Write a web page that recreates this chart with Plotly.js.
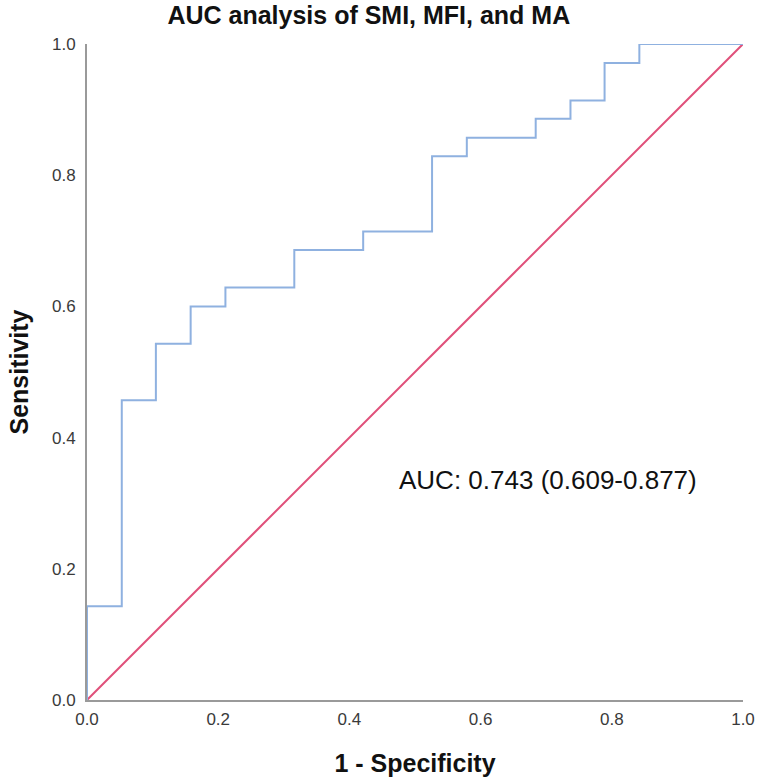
<!DOCTYPE html>
<html>
<head>
<meta charset="utf-8">
<script src="https://cdn.plot.ly/plotly-3.0.1.min.js"></script>
<style>body{margin:0;background:#fff;} #chart{width:762px;height:784px;}</style>
</head>
<body>
<div id="chart"></div>
<script>
// ROC curve corner points (1 - specificity, sensitivity)
const fpr = [0, 0.053, 0.105, 0.158, 0.211, 0.316, 0.421, 0.526, 0.579, 0.684, 0.737, 0.789, 0.842, 1.0];
const tpr = [0, 0.143, 0.457, 0.543, 0.600, 0.629, 0.686, 0.714, 0.829, 0.857, 0.886, 0.914, 0.971, 1.0];
// Reference line
const refX = [0, 1];
const refY = [0, 1];
const tickVals = [0, 0.2, 0.4, 0.6, 0.8, 1.0];
const tickText = ["0.0", "0.2", "0.4", "0.6", "0.8", "1.0"];
const titleText = "AUC analysis of SMI, MFI, and MA";
const xTitle = "1 - Specificity";
const yTitle = "Sensitivity";
const aucText = "AUC: 0.743 (0.609-0.877)";

const traces = [
  {x: refX, y: refY, mode: "lines", line: {color: "#e0507a", width: 2}, hoverinfo: "skip"},
  {x: fpr, y: tpr, mode: "lines", line: {color: "#8fb1e0", width: 2, shape: "vh"}, hoverinfo: "skip"}
];

const FONT = "Liberation Sans, Arial, sans-serif";
const axisCommon = {
  range: [0, 1], tickvals: tickVals, ticktext: tickText,
  showgrid: false, zeroline: false, showline: true, linecolor: "#9a9a9a", linewidth: 2,
  ticks: "", tickfont: {family: FONT, size: 17, color: "#3a3a3a"},
  fixedrange: true
};

const layout = {
  width: 762, height: 784,
  margin: {l: 87, r: 19, t: 44, b: 84},
  paper_bgcolor: "#fff", plot_bgcolor: "#fff",
  showlegend: false,
  font: {family: FONT, color: "#111"},
  title: {text: "<b>" + titleText + "</b>", x: 0.484, xanchor: "center", y: 0.98, yanchor: "middle",
          font: {size: 25, color: "#111"}},
  xaxis: Object.assign({}, axisCommon, {
    title: {text: "<b>" + xTitle + "</b>", font: {size: 25, color: "#111"}, standoff: 26},
    ticklabelstandoff: 3
  }),
  yaxis: Object.assign({}, axisCommon, {
    title: {text: "<b>" + yTitle + "</b>", font: {size: 25, color: "#111"}, standoff: 16},
    ticklabelstandoff: 6
  }),
  annotations: [{
    x: 0.474, y: 0.335, xref: "x", yref: "y", xanchor: "left", yanchor: "middle",
    text: aucText, showarrow: false, borderpad: 0,
    font: {size: 26, color: "#111", family: FONT}
  }]
};

Plotly.newPlot("chart", traces, layout, {displayModeBar: false, staticPlot: true});
</script>
</body>
</html>
